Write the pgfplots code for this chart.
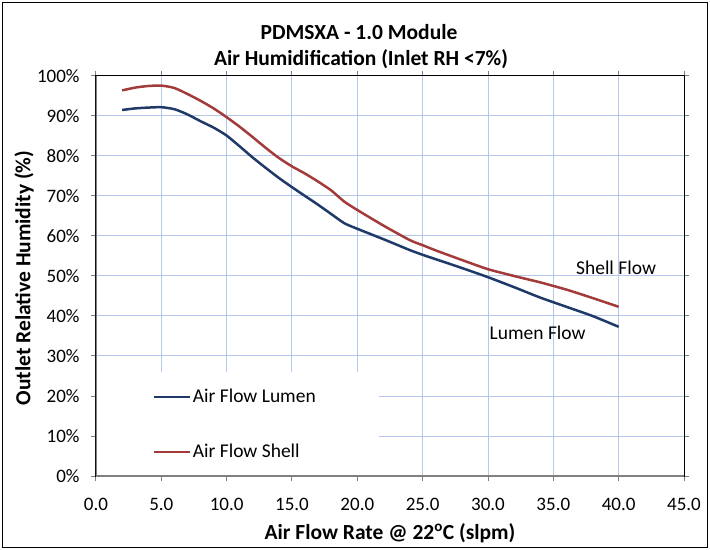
\documentclass[border=0pt]{standalone}
\usepackage{pgfplots}
\pgfplotsset{compat=1.18}
\usepackage{fontspec}
\setmainfont{Carlito}
\definecolor{lumen}{HTML}{1F3A68}
\definecolor{shell}{HTML}{A33B3B}
\definecolor{gridc}{HTML}{B4C8EC}
\begin{document}
\begin{tikzpicture}[x=1bp,y=1bp]
\path (-96bp,-74bp) rectangle (614bp,476bp);
\draw[line width=1bp] (-93bp,-71bp) rectangle (611bp,473bp);
\begin{axis}[
  at={(0,0)}, anchor=south west,
  scale only axis, width=588bp, height=400bp,
  xmin=0, xmax=45, ymin=0, ymax=100,
  xtick={0,5,...,45}, ytick={0,10,...,100},
  grid=major, grid style={gridc, line width=1bp},
  axis line style={black, line width=1bp},
  tick align=outside, major tick length=5bp,
  tick style={gray, line width=1bp},
  xticklabel={\pgfmathprintnumber[fixed,fixed zerofill,precision=1]{\tick}},
  yticklabel={\pgfmathprintnumber{\tick}\%},
  /pgf/number format/assume math mode=true,
  ticklabel style={font=\fontsize{19bp}{22bp}\selectfont},
  xticklabel style={yshift=-14bp},
  yticklabel style={xshift=-8bp},
  xlabel={\textbf{Air Flow Rate @ 22\textsuperscript{o}C (slpm)}},
  ylabel={\textbf{Outlet Relative Humidity (\%)}},
  label style={font=\fontsize{21.5bp}{24bp}\selectfont},
  xlabel style={at={(axis description cs:0.5,-0.1425)}, anchor=center},
  ylabel style={at={(axis description cs:-0.1224,0.495)}, anchor=center},
  legend image code/.code={\draw[#1] (0bp,0bp) -- (36bp,0bp);},
  legend style={at={(axis cs:4.3,22.2)}, anchor=north west, draw=none, fill=none,
    inner sep=0pt, row sep=36bp, font=\fontsize{19.5bp}{22bp}\selectfont,
    cells={anchor=west}, nodes={inner xsep=2bp}},
  legend cell align=left,
]
\addplot[lumen, line width=2.5bp, smooth, tension=0.4] coordinates {
(2,91.5) (3,91.9) (4,92.1) (5,92.2) (6,91.7) (7,90.4) (8,88.7) (9,87.1) (10,85.1)
(11,82.4) (12,79.6) (13,77.0) (14,74.5) (15,72.2) (16,70.0) (17,67.8) (18,65.5)
(19,63.2) (20,61.8) (22,59.2) (24,56.5) (25,55.3) (26,54.2) (28,52.0) (30,49.7)
(32,47.2) (34,44.6) (36,42.3) (38,40.0) (40,37.3)};
\addlegendentry{Air Flow Lumen}
\addplot[shell, line width=2.5bp, smooth, tension=0.4] coordinates {
(2,96.4) (3,97.1) (4,97.5) (5,97.6) (6,97.0) (7,95.5) (8,93.8) (9,91.9) (10,89.7)
(11,87.3) (12,84.7) (13,82.0) (14,79.5) (15,77.4) (16,75.6) (17,73.6) (18,71.4)
(19,68.6) (20,66.5) (22,62.6) (24,59.0) (25,57.7) (26,56.4) (28,54.0) (30,51.7)
(32,50.0) (34,48.4) (36,46.6) (38,44.5) (40,42.3)};
\addlegendentry{Air Flow Shell}
\fill[white] (axis cs:0.05,0.15) rectangle (axis cs:21.65,26);
\draw[gray, line width=1.5bp] (rel axis cs:0,0) -- (rel axis cs:0,1);
\draw[gray, line width=1.5bp] (rel axis cs:0,0) -- (rel axis cs:1,0);
\node[font=\fontsize{19.5bp}{22bp}\selectfont] at (axis cs:39.8,52) {Shell Flow};
\node[font=\fontsize{19.5bp}{22bp}\selectfont] at (axis cs:33.8,35.8) {Lumen Flow};
\end{axis}
\node[font=\bfseries\fontsize{21.5bp}{24bp}\selectfont] at (263bp,444.3bp) {PDMSXA - 1.0 Module};
\node[font=\bfseries\fontsize{21.5bp}{24bp}\selectfont] at (265bp,416.7bp) {Air Humidification (Inlet RH <7\%)};
\end{tikzpicture}
\end{document}
